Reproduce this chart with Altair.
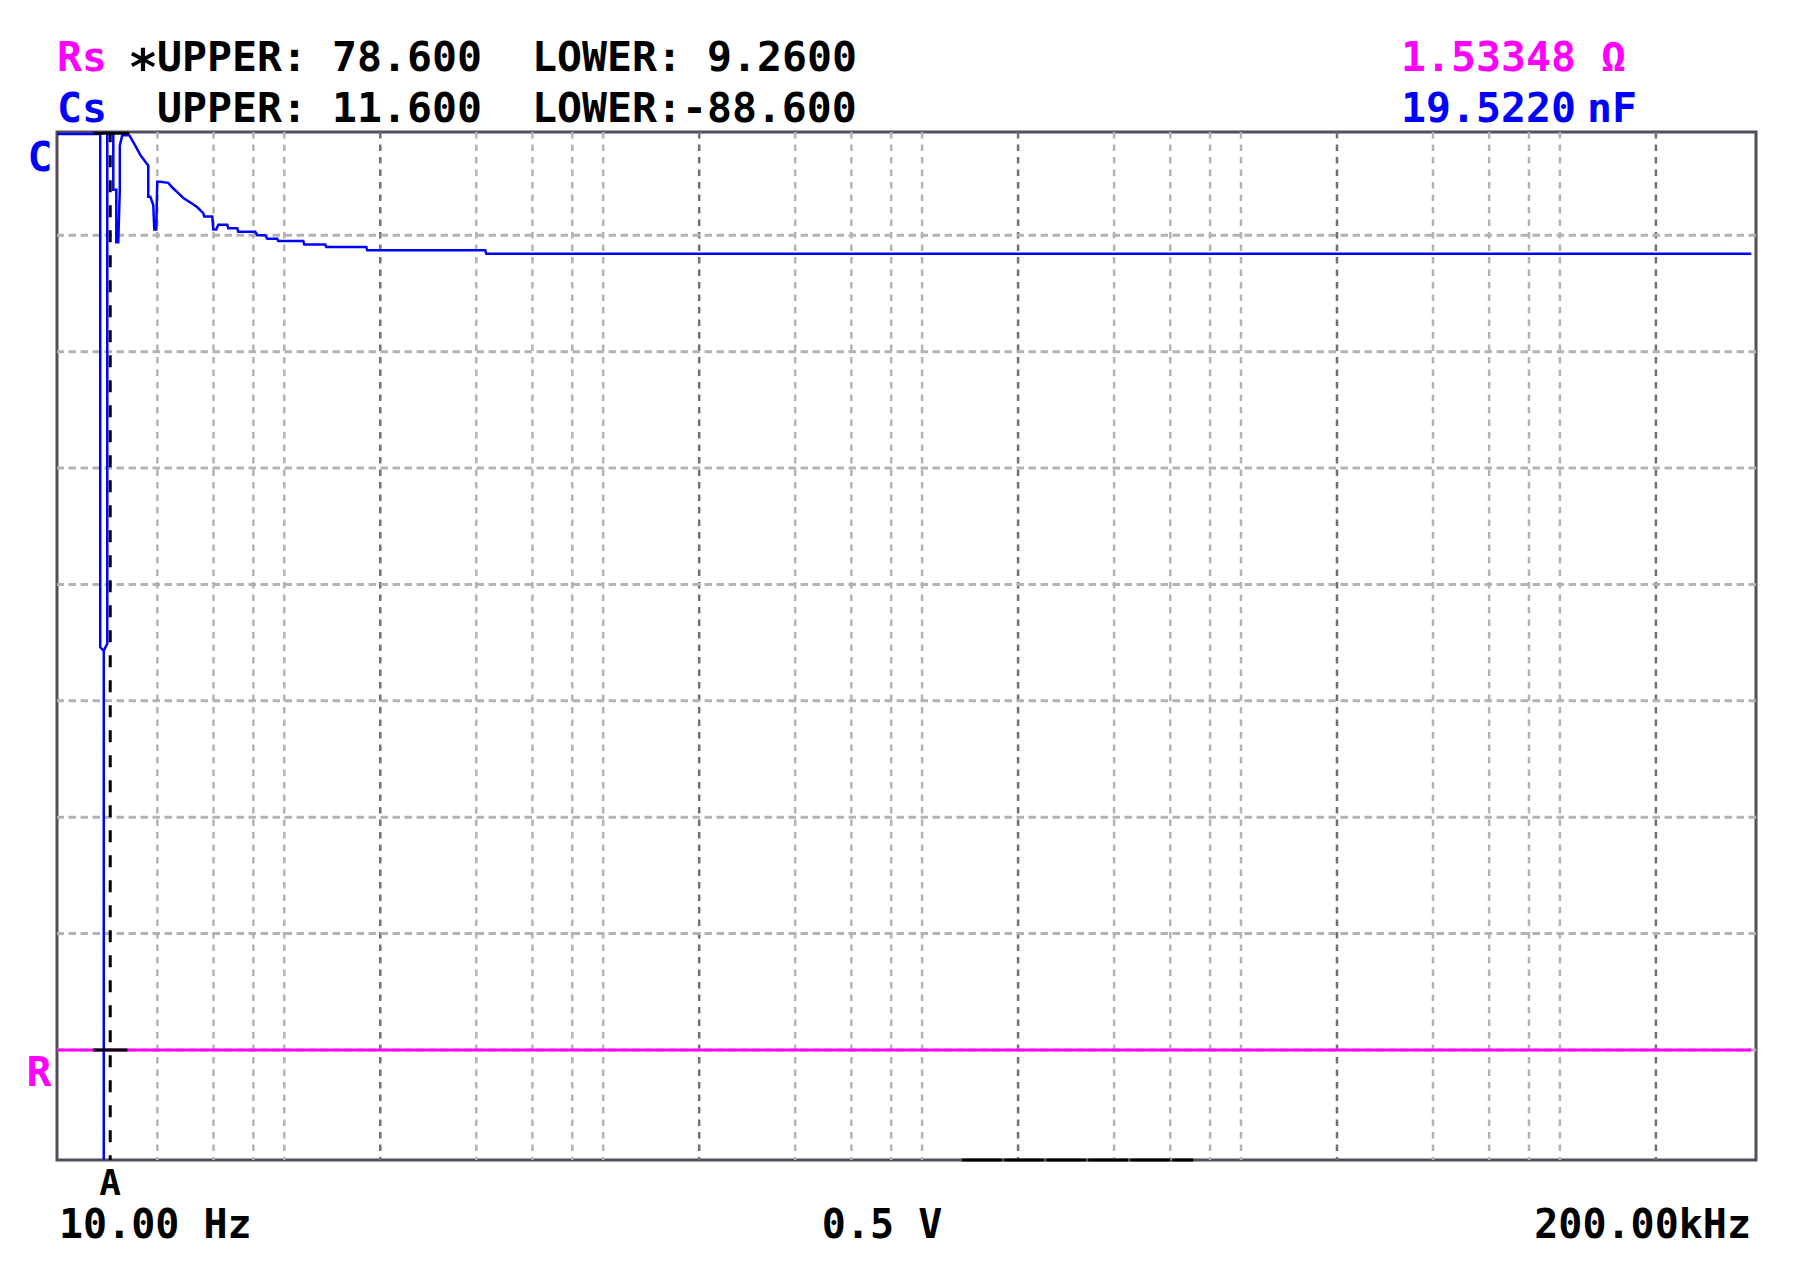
import altair as alt
import pandas as pd

# ---------------- data ----------------
# Cs trace: x = frequency position (log axis), y = grid divisions (R line = 1)
cs_freq = [0.971, 1.259, 1.324, 1.324, 1.358, 1.358, 1.358, 1.393, 1.393, 1.455,
           1.455, 1.487, 1.487, 1.508, 1.525, 1.525, 1.552, 1.633, 1.705, 1.768,
           1.846, 1.873, 1.873, 1.901, 1.942, 1.956, 1.984, 1.998, 2.042, 2.164,
           2.228, 2.309, 2.412, 2.574, 2.669, 2.786, 2.807, 2.973, 2.995, 3.060,
           3.105, 3.313, 3.337, 3.561, 3.587, 4.055, 4.114, 4.358, 4.422, 4.753,
           4.788, 5.736, 5.778, 6.723, 6.771, 9.040, 9.105, 21.34, 21.50, 199100]
cs_div = [8.87, 8.87, 8.87, 4.46, 4.43, 0.06, 4.43, 4.49, 8.87, 8.87,
          8.39, 8.39, 7.94, 7.94, 8.39, 8.77, 8.86, 8.86, 8.77, 8.69,
          8.62, 8.60, 8.33, 8.33, 8.26, 8.05, 8.05, 8.46, 8.46, 8.45,
          8.41, 8.37, 8.32, 8.27, 8.24, 8.19, 8.16, 8.16, 8.05, 8.05,
          8.09, 8.09, 8.06, 8.06, 8.03, 8.03, 8.00, 8.00, 7.97, 7.97,
          7.95, 7.95, 7.92, 7.92, 7.90, 7.90, 7.87, 7.87, 7.84, 7.84]

# Rs trace (flat)
rs_freq = [0.969, 199100]
rs_div = [1.0, 1.0]

# grid
grid_dark = [10, 100, 1000, 10000, 100000]
grid_light = [2, 3, 4, 5, 20, 30, 40, 50, 200, 300, 400, 500,
              2000, 3000, 4000, 5000, 20000, 30000, 40000, 50000]
grid_h = [1, 2, 3, 4, 5, 6, 7, 8]

# cursor A
cursor_freq = [1.423]
cross_f1 = [1.259, 1.259]
cross_f2 = [1.633, 1.611]
cross_v = [8.876, 1.0]

# bottom bar on frame
bar_f1 = [668]
bar_f2 = [3540]

# texts
rs_label, cs_label = "Rs", "Cs"
rs_upper, rs_lower = "78.600", "9.2600"
cs_upper, cs_lower = "11.600", "-88.600"
rs_value, cs_value = "1.53348 Ω", "19.5220"
cs_unit = "nF"
start_label, level_label, stop_label = "10.00 Hz", "0.5 V", "200.00kHz"

# ---------------- styling / layout ----------------
W, H = 1699, 1028
FONT = "DejaVu Sans Mono"
FS = 41.5
PITCH = 25
BLUE, MAG, BLACK = "#0000ff", "#ff00ff", "#000000"

xs = alt.Scale(type="log", domain=[0.969, 206000], nice=False)
ys = alt.Scale(domain=[0.055, 8.887], nice=False, zero=False)
X = lambda f: alt.X(f, type="quantitative", scale=xs, axis=None)
Y = lambda f: alt.Y(f, type="quantitative", scale=ys, axis=None)

vdark = alt.Chart(pd.DataFrame({"f": grid_dark})).mark_rule(
    color="#707070", strokeWidth=2.5, strokeDash=[6.5, 6]).encode(x=X("f"))
vlight = alt.Chart(pd.DataFrame({"f": grid_light})).mark_rule(
    color="#b3b3b3", strokeWidth=2.5, strokeDash=[6.5, 6]).encode(x=X("f"))
hgrid = alt.Chart(pd.DataFrame({"v": grid_h})).mark_rule(
    color="#b3b3b3", strokeWidth=3, strokeDash=[7.5, 4.5]).encode(y=Y("v"))

rline = alt.Chart(pd.DataFrame({"f": rs_freq, "v": rs_div})).mark_line(
    color=MAG, strokeWidth=3).encode(x=X("f"), y=Y("v"))

cdf = pd.DataFrame({"f": cs_freq, "v": cs_div, "i": list(range(len(cs_freq)))})
cline = alt.Chart(cdf).mark_line(color=BLUE, strokeWidth=2.5).encode(
    x=X("f"), y=Y("v"), order=alt.Order("i:Q"))

cursor = alt.Chart(pd.DataFrame({"f": cursor_freq})).mark_rule(
    color=BLACK, strokeWidth=3, strokeDash=[12, 13], strokeDashOffset=1.7).encode(
    x=X("f"), y=alt.value(0), y2=alt.value(H))

cross = alt.Chart(pd.DataFrame({"f1": cross_f1, "f2": cross_f2, "v": cross_v})).mark_rule(
    color=BLACK, strokeWidth=3).encode(x=X("f1"), x2="f2", y=Y("v"))

bar = alt.Chart(pd.DataFrame({"f1": bar_f1, "f2": bar_f2})).mark_rule(
    color=BLACK, strokeWidth=3, strokeDash=[40, 2]).encode(
    x=X("f1"), x2="f2", y=alt.value(H))


def txt(text, x, y, color, size=FS, align="left"):
    return alt.Chart(pd.DataFrame({"t": [text]})).mark_text(
        font=FONT, fontSize=size, fontWeight="bold", color=color,
        align=align, baseline="alphabetic").encode(
        text="t:N", x=alt.value(x), y=alt.value(y))


R1, R2 = -61, -10.5
texts = [
    txt(rs_label, 0, R1, MAG),
    txt("*", 86, -47, BLACK, size=50, align="center"),
    txt("UPPER:", PITCH * 4, R1, BLACK),
    txt(rs_upper, PITCH * 11, R1, BLACK),
    txt("LOWER:", PITCH * 19, R1, BLACK),
    txt(rs_lower, PITCH * 26, R1, BLACK),
    txt(cs_label, 0, R2, BLUE),
    txt("UPPER:", PITCH * 4, R2, BLACK),
    txt(cs_upper, PITCH * 11, R2, BLACK),
    txt("LOWER:" + cs_lower, PITCH * 19, R2, BLACK),
    txt(rs_value, 1344, R1, MAG),
    txt(cs_value, 1344, R2, BLUE),
    txt(cs_unit, 1530, R2, BLUE),
    txt("C", -17, 39, BLUE, align="center"),
    txt("R", -18, 954, MAG, align="center"),
    txt("A", 53, 1063, BLACK, size=36, align="center"),
    txt(start_label, 2, 1106, BLACK, size=40),
    txt(level_label, 825, 1106, BLACK, size=40, align="center"),
    txt(stop_label, 1694, 1106, BLACK, size=40, align="right"),
]

chart = alt.layer(vlight, vdark, hgrid, rline, cline, cursor, cross, bar, *texts).properties(
    width=W, height=H,
    autosize=alt.AutoSizeParams(type="none"),
    padding={"left": 49, "top": 124, "right": 20, "bottom": 90},
    background="white",
).configure_view(stroke="#554d5c", strokeWidth=3)

chart.save("out.html", embed_options={"renderer": "svg", "actions": False})
